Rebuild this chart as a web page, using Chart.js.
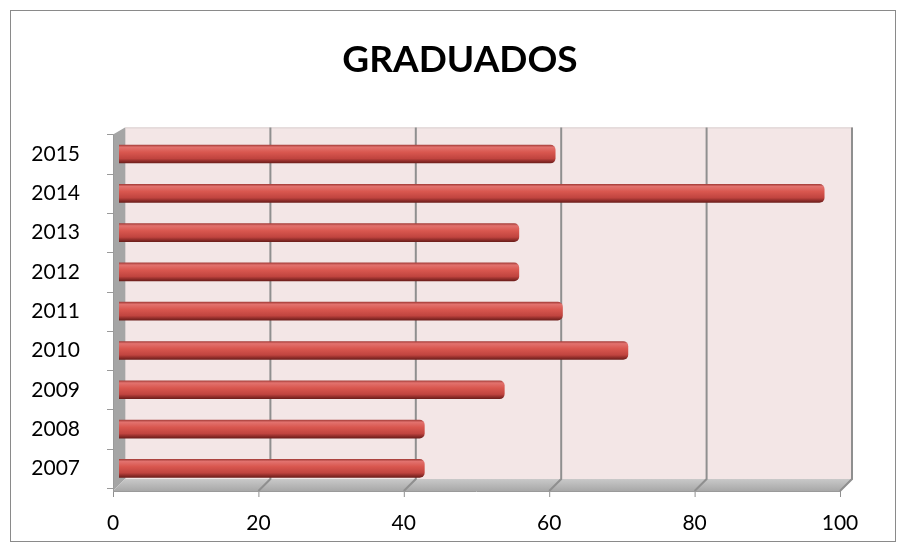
<!DOCTYPE html>
<html>
<head>
<meta charset="utf-8">
<script src="https://cdn.jsdelivr.net/npm/chart.js@4/dist/chart.umd.min.js"></script>
<style>
  html, body { margin: 0; padding: 0; background: #fff; }
  #wrap { width: 904px; height: 549px; position: relative; }
</style>
</head>
<body>
<div id="wrap"><canvas id="barChart" width="904" height="549"></canvas></div>
<script>
const years = ["2015", "2014", "2013", "2012", "2011", "2010", "2009", "2008", "2007"];
const graduados = [60, 97, 55, 55, 61, 70, 53, 42, 42];
const xTicks = [0, 20, 40, 60, 80, 100];

const DEPTH = 6;

// pink back wall, left wall, floor and the slanted grid lines
const wallsPlugin = {
    id: "walls",
    afterLayout(chart) {
        // centre the title on the whole frame, not on the padded area
        if (chart.titleBlock) {
            chart.titleBlock.left = 16;
            chart.titleBlock.right = 904;
        }
    },
    beforeDatasetsDraw(chart) {
        let ctx = chart.ctx;
        let a = chart.chartArea;
        let x = chart.scales.x;
        let top = a.top - 7, bottom = a.bottom - 9;
        let left = a.left + DEPTH, right = x.getPixelForValue(100) + DEPTH;
        ctx.save();
        // back wall
        ctx.fillStyle = "#f3e6e6";
        ctx.fillRect(left, top, right - left, bottom - top);
        ctx.strokeStyle = "#d9d0d0";
        ctx.lineWidth = 1;
        ctx.strokeRect(left + 0.5, top + 0.5, right - left, bottom - top);
        // left wall
        ctx.fillStyle = "#a5a5a5";
        ctx.beginPath();
        ctx.moveTo(left, top);
        ctx.lineTo(left, bottom);
        ctx.lineTo(left - 2 * DEPTH, bottom + 12);
        ctx.lineTo(left - 2 * DEPTH, top + 7);
        ctx.closePath();
        ctx.fill();
        // floor
        let g = ctx.createLinearGradient(0, bottom, 0, bottom + 12);
        g.addColorStop(0, "#c9c9c9");
        g.addColorStop(1, "#a8a8a8");
        ctx.fillStyle = g;
        ctx.beginPath();
        ctx.moveTo(left, bottom);
        ctx.lineTo(right, bottom);
        ctx.lineTo(right - 2 * DEPTH, bottom + 12);
        ctx.lineTo(left - 2 * DEPTH, bottom + 12);
        ctx.closePath();
        ctx.fill();
        // grid lines
        ctx.strokeStyle = "#8f8f8f";
        ctx.lineWidth = 2;
        xTicks.forEach(v => {
            let px = x.getPixelForValue(v) + DEPTH;
            if (v > 0) {
                ctx.beginPath();
                ctx.moveTo(px, top);
                ctx.lineTo(px, bottom);
                ctx.lineTo(px - 2 * DEPTH, bottom + 12);
                ctx.stroke();
            }
            // tick below the front edge
            ctx.lineWidth = 1;
            ctx.beginPath();
            ctx.moveTo(px - 2 * DEPTH + 0.5, bottom + 12);
            ctx.lineTo(px - 2 * DEPTH + 0.5, bottom + 18);
            ctx.stroke();
            ctx.lineWidth = 2;
        });
        // front axis line
        ctx.lineWidth = 1;
        ctx.strokeStyle = "#9a9a9a";
        ctx.beginPath();
        ctx.moveTo(left - 2 * DEPTH, bottom + 12.5);
        ctx.lineTo(right - 2 * DEPTH, bottom + 12.5);
        ctx.stroke();
        ctx.beginPath();
        ctx.moveTo(left - 2 * DEPTH + 0.5, top + 7);
        ctx.lineTo(left - 2 * DEPTH + 0.5, bottom + 12);
        ctx.stroke();
        // category ticks on the left
        let step = (a.bottom - a.top) / years.length;
        for (let i = 0; i <= years.length; i++) {
            let py = Math.round(a.top + step * i) + 0.5;
            ctx.beginPath();
            ctx.moveTo(left - 2 * DEPTH - 6, py);
            ctx.lineTo(left - 2 * DEPTH, py);
            ctx.stroke();
        }
        ctx.restore();
    },
    afterDraw(chart) {
        let ctx = chart.ctx;
        ctx.save();
        ctx.strokeStyle = "#8a8a8a";
        ctx.lineWidth = 1;
        ctx.strokeRect(10.5, 10.5, 885, 531);
        ctx.restore();
    }
};

function barGradient(context) {
    let chart = context.chart;
    if (!chart.chartArea) return "#c0504d";
    let yc = chart.scales.y.getPixelForValue(context.dataIndex);
    let g = chart.ctx.createLinearGradient(0, yc - 9, 0, yc + 9);
    g.addColorStop(0, "#a8403c");
    g.addColorStop(0.12, "#e2726e");
    g.addColorStop(0.4, "#d9574f");
    g.addColorStop(0.75, "#c0443f");
    g.addColorStop(0.9, "#8e2c29");
    g.addColorStop(1, "#6e1f1c");
    return g;
}

new Chart(document.getElementById("barChart"), {
    type: "bar",
    data: {
        labels: years,
        datasets: [{
            label: "Graduados",
            data: graduados,
            backgroundColor: barGradient,
            borderColor: "#8a2b28",
            borderWidth: 0,
            borderSkipped: "start",
            borderRadius: 5,
            barThickness: 18
        }]
    },
    options: {
        indexAxis: "y",
        responsive: false,
        animation: false,
        layout: { padding: { left: 10, right: 58, top: 0, bottom: 0 } },
        plugins: {
            legend: { display: false },
            tooltip: { enabled: false },
            title: {
                display: true,
                text: "GRADUADOS",
                color: "#000",
                font: { family: "Lato", size: 37, weight: "bold" },
                padding: { top: 38, bottom: 52 }
            }
        },
        scales: {
            x: {
                min: 0,
                max: 100,
                afterBuildTicks: s => { s.ticks = xTicks.map(v => ({ value: v })); },
                grid: { display: false },
                border: { display: false },
                ticks: {
                    color: "#000",
                    font: { family: "Lato", size: 21 },
                    padding: 15,
                    labelOffset: -DEPTH
                },
                afterFit: s => { s.height = 61; }
            },
            y: {
                grid: { display: false },
                border: { display: false },
                ticks: {
                    color: "#000",
                    font: { family: "Lato", size: 21 },
                    padding: 31
                },
                afterFit: s => { s.width = 109; }
            }
        }
    },
    plugins: [wallsPlugin]
});
</script>
</body>
</html>
